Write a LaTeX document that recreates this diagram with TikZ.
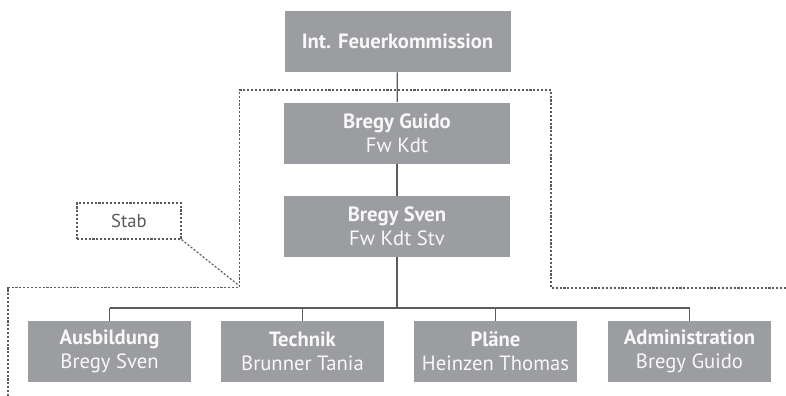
\documentclass[tikz,border=0pt]{standalone}
\usepackage{fontspec}
\setmainfont{PT Sans}
\usetikzlibrary{positioning}

\begin{document}
\begin{tikzpicture}[x=0.75pt,y=-0.75pt]

    \definecolor{boxgray}{RGB}{156,157,160}
    \definecolor{linegray}{RGB}{90,90,95}
    \definecolor{textwhite}{RGB}{248,248,248}
    \tikzset{
        orgbox/.style={fill=boxgray, text=textwhite, align=center, font=\fontsize{15.5}{18}\selectfont,
            minimum width=169.5pt, minimum height=45.75pt, inner sep=0pt},
        unitbox/.style={orgbox, minimum width=122.25pt},
        tie/.style={draw=linegray, line width=0.9pt},
        staffline/.style={draw=linegray, line width=0.85pt, dash pattern=on 1.6pt off 1.3pt}
    }
    \useasboundingbox (0,0) rectangle (786,396);

    % Draw the staff region and its label
    \draw[staffline] (8,396) -- (8,287.5) -- (239.5,287.5) -- (239.5,90) -- (551,90) -- (551,288) -- (786,288);
    \coordinate (staffcorner) at (239.5,286);
    \node[staffline, minimum width=78pt, minimum height=27pt, inner sep=0pt, text=linegray,
        font=\fontsize{14}{16}\selectfont] (stab) at (129,221) {Stab};
    \draw[staffline] (stab.south east) -- (staffcorner);

    % Draw the command chain
    \node[orgbox] (ifk) at (397.5,41.5) {\textbf{Int. Feuerkommission}};
    \node[orgbox] (guido) at (397,133) {\textbf{Bregy Guido}\\Fw Kdt};
    \node[orgbox] (sven) at (397,226.5) {\textbf{Bregy Sven}\\Fw Kdt Stv};
    \draw[tie] (ifk) -- (guido);
    \draw[tie] (guido) -- (sven);

    % Draw the four units
    \node[unitbox] (ausb) at (109.5,351.5) {\textbf{Ausbildung}\\Bregy Sven};
    \node[unitbox] (tech) at (302.5,351.5) {\textbf{Technik}\\Brunner Tania};
    \node[unitbox] (plaene) at (495.5,351.5) {\textbf{Pläne}\\Heinzen Thomas};
    \node[unitbox] (admin) at (689.5,351.5) {\textbf{Administration}\\Bregy Guido};

    % Draw the bus to the units
    \coordinate (bus) at (0,308);
    \draw[tie] (sven) -- (sven |- bus);
    \draw[tie] (ausb.north |- bus) -- (admin.north |- bus);
    \foreach \u in {ausb,tech,plaene,admin}
        \draw[tie] (\u.north) -- (\u.north |- bus);

\end{tikzpicture}
\end{document}
